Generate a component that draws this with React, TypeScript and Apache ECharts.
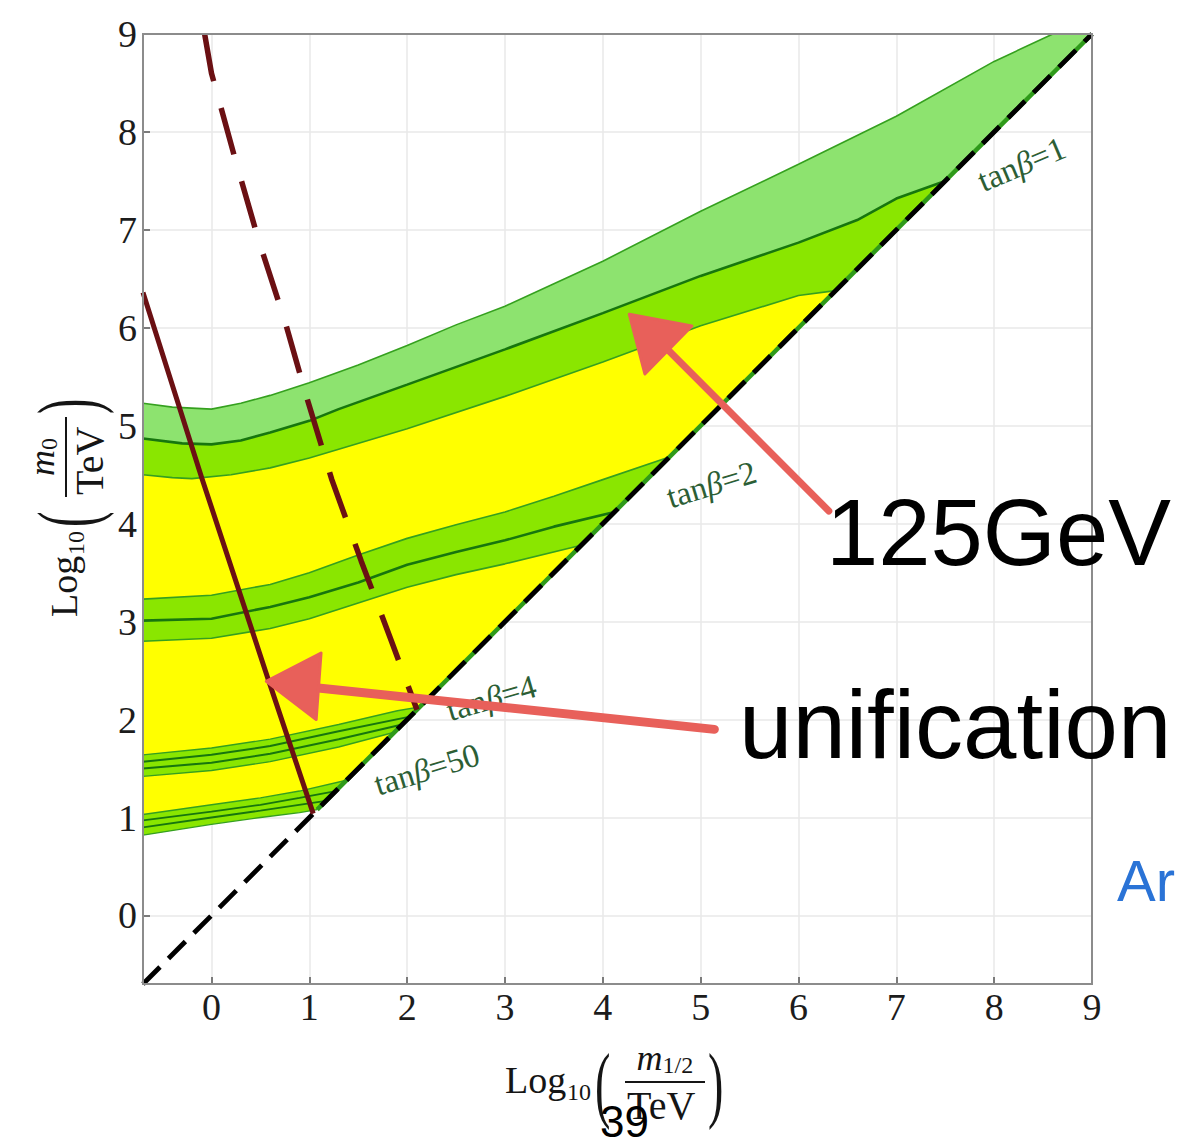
import { useEffect, useRef } from 'react';
import * as echarts from 'echarts';

type Pt = [number, number];

// Axis extent, log10 of the mass in TeV on both axes
const AXIS_MIN = -0.7;
const AXIS_MAX = 9;

// m_h = 125 GeV contour bands, points are [log10 m1/2, log10 m0]
const tb1Upper: Pt[] = [[-0.7, 5.23], [-0.4, 5.19], [0, 5.17], [0.3, 5.23], [0.6, 5.31], [1, 5.44], [1.5, 5.62], [2, 5.82], [2.5, 6.03], [3, 6.22], [3.5, 6.45], [4, 6.68], [5, 7.19], [6, 7.67], [7, 8.16], [8, 8.72], [8.6, 9]];
const tb1Centre: Pt[] = [[-0.7, 4.87], [-0.3, 4.82], [0, 4.81], [0.3, 4.85], [0.6, 4.93], [1, 5.05], [1.3, 5.17], [2, 5.42], [3, 5.78], [4, 6.15], [5, 6.53], [6, 6.87], [6.6, 7.1], [7, 7.32], [7.5, 7.5]];
const tb1Lower: Pt[] = [[-0.7, 4.5], [-0.4, 4.47], [-0.2, 4.46], [0.2, 4.5], [0.6, 4.57], [1, 4.67], [1.3, 4.76], [2, 4.97], [3, 5.3], [4, 5.65], [5, 6.02], [6, 6.33], [6.38, 6.38]];

const tb2Upper: Pt[] = [[-0.7, 3.23], [0, 3.27], [0.6, 3.38], [1, 3.5], [1.5, 3.68], [2, 3.85], [2.5, 3.99], [3, 4.12], [3.5, 4.28], [4, 4.45], [4.68, 4.68]];
const tb2Centre: Pt[] = [[-0.7, 3.01], [0, 3.03], [0.6, 3.15], [1, 3.25], [1.5, 3.4], [2, 3.58], [2.5, 3.71], [3, 3.83], [3.5, 3.97], [4.12, 4.12]];
const tb2Lower: Pt[] = [[-0.7, 2.8], [0, 2.83], [0.6, 2.93], [1, 3.03], [1.5, 3.19], [2, 3.35], [2.5, 3.48], [3, 3.59], [3.78, 3.78]];

const tb4Upper: Pt[] = [[-0.7, 1.64], [0, 1.71], [0.6, 1.8], [1.3, 1.95], [1.9, 2.09], [2.13, 2.13]];
const tb4CentreA: Pt[] = [[-0.7, 1.57], [0, 1.64], [0.6, 1.73], [1.3, 1.88], [2.03, 2.03]];
const tb4CentreB: Pt[] = [[-0.7, 1.5], [0, 1.56], [0.6, 1.65], [1.3, 1.8], [1.95, 1.95]];
const tb4Lower: Pt[] = [[-0.7, 1.42], [0, 1.48], [0.6, 1.57], [1.3, 1.72], [1.87, 1.87]];

const tb50Upper: Pt[] = [[-0.7, 1.03], [0, 1.13], [0.5, 1.2], [0.9, 1.27], [1.38, 1.38]];
const tb50CentreA: Pt[] = [[-0.7, 0.97], [0, 1.06], [0.5, 1.13], [0.9, 1.2], [1.27, 1.27]];
const tb50CentreB: Pt[] = [[-0.7, 0.9], [0, 1.0], [0.5, 1.07], [1.17, 1.17]];
const tb50Lower: Pt[] = [[-0.7, 0.82], [0, 0.93], [0.5, 1.0], [0.9, 1.05], [1.08, 1.08]];

// gauge-coupling unification curves
const unifSolid: Pt[] = [[-0.7, 6.36], [-0.1, 4.47], [0.58, 2.41], [1.04, 1.04]];
const unifDashed: Pt[] = [[-0.07, 9.0], [0, 8.6], [0.24, 7.73], [0.48, 6.9], [0.75, 6.07], [0.97, 5.3], [1.23, 4.45], [1.53, 3.62], [1.84, 2.8], [2.1, 2.1]];

// m0 = m1/2 boundary
const diagonal: Pt[] = [[AXIS_MIN, AXIS_MIN], [AXIS_MAX, AXIS_MAX]];
const diagonalShaded: Pt[] = [[1.08, 1.08], [AXIS_MAX, AXIS_MAX]];

const contourLabels = [
  { value: '1', at: [8.28, 7.67] as Pt, angle: 23 },
  { value: '2', at: [5.11, 4.4] as Pt, angle: 17 },
  { value: '4', at: [2.86, 2.22] as Pt, angle: 16 },
  { value: '50', at: [2.2, 1.49] as Pt, angle: 17 },
];

// hand-drawn pointers
const pointers = [
  { tail: [6.31, 4.13] as Pt, neck: [4.55, 5.89] as Pt, tip: [4.27, 6.14] as Pt, wingA: [4.91, 6.02] as Pt, wingB: [4.43, 5.53] as Pt, width: 7 },
  { tail: [5.14, 1.9] as Pt, neck: [0.92, 2.34] as Pt, tip: [0.56, 2.39] as Pt, wingA: [1.12, 2.68] as Pt, wingB: [1.07, 2.0] as Pt, width: 9 },
];

const LIGHT_GREEN = '#8de36f';
const BRIGHT_GREEN = '#8ae600';
const YELLOW = '#ffff00';
const EDGE_GREEN = '#35a01f';
const DARK_GREEN = '#17760e';
const MAROON = '#6b1013';
const POINTER = '#e8605a';
const LABEL_GREEN = '#2c5e35';
const INK = '#151515';
const SERIF = '"Liberation Serif", "Times New Roman", serif';
const SANS = '"Liberation Sans", Arial, sans-serif';

const rev = (c: Pt[]): Pt[] => [...c].reverse();

const regions: { name: string; pts: Pt[]; color: string }[] = [
  { name: 'light', pts: [...tb1Upper, [AXIS_MAX, AXIS_MAX], ...rev(tb1Centre)], color: LIGHT_GREEN },
  { name: 'tb1', pts: [...tb1Centre, ...rev(tb1Lower)], color: BRIGHT_GREEN },
  { name: 'yellow', pts: [...tb1Lower, ...rev(tb50Upper)], color: YELLOW },
  { name: 'tb2', pts: [...tb2Upper, ...rev(tb2Lower)], color: BRIGHT_GREEN },
  { name: 'tb4', pts: [...tb4Upper, ...rev(tb4Lower)], color: BRIGHT_GREEN },
  { name: 'tb50', pts: [...tb50Upper, ...rev(tb50Lower)], color: BRIGHT_GREEN },
];

const fillSeries = regions.map((r) => ({
  type: 'custom',
  name: r.name,
  silent: true,
  clip: true,
  z: 1,
  data: [[0, 0]],
  renderItem: (_p: any, api: any) => ({
    type: 'polygon',
    shape: { points: r.pts.map((p) => api.coord(p)) },
    style: { fill: r.color },
  }),
}));

const curve = (pts: Pt[], color: string, width: number, z = 2, type: any = 'solid') => ({
  type: 'line',
  data: pts,
  silent: true,
  showSymbol: false,
  symbol: 'none',
  z,
  lineStyle: { color, width, type, cap: 'butt' },
});

const edgeSeries = [
  curve(tb1Upper, EDGE_GREEN, 1.6),
  curve(tb1Centre, DARK_GREEN, 2.6),
  curve(tb1Lower, EDGE_GREEN, 1.6),
  curve(tb2Upper, EDGE_GREEN, 1.6),
  curve(tb2Centre, DARK_GREEN, 2.6),
  curve(tb2Lower, EDGE_GREEN, 1.6),
  curve(tb4Upper, EDGE_GREEN, 1.4),
  curve(tb4CentreA, DARK_GREEN, 2),
  curve(tb4CentreB, DARK_GREEN, 2),
  curve(tb4Lower, EDGE_GREEN, 1.4),
  curve(tb50Upper, EDGE_GREEN, 1.4),
  curve(tb50CentreA, DARK_GREEN, 1.8),
  curve(tb50CentreB, DARK_GREEN, 1.8),
  curve(tb50Lower, EDGE_GREEN, 1.4),
  curve(diagonalShaded, '#2f9a1a', 4.5, 3),
  curve(diagonal, '#000000', 4.8, 3, [24, 12]),
  curve(unifSolid, MAROON, 5, 4),
  curve(unifDashed, MAROON, 5.5, 4, [48, 28]),
];

const labelSeries = {
  type: 'custom',
  silent: true,
  z: 5,
  data: contourLabels.map((l) => l.at),
  renderItem: (params: any, api: any) => {
    const l = contourLabels[params.dataIndex];
    const [x, y] = api.coord(l.at);
    const base = { fontSize: 33, fontFamily: SERIF, fill: LABEL_GREEN };
    return {
      type: 'text',
      x,
      y,
      rotation: (l.angle * Math.PI) / 180,
      style: {
        text: `{n|tan}{b|β}{n|=${l.value}}`,
        align: 'center',
        verticalAlign: 'middle',
        ...base,
        rich: { n: { ...base }, b: { ...base, fontStyle: 'italic' } },
      },
    };
  },
};

const pointerSeries = {
  type: 'custom',
  silent: true,
  z: 6,
  data: pointers.map((p) => p.tip),
  renderItem: (params: any, api: any) => {
    const a = pointers[params.dataIndex];
    const t = api.coord(a.tail);
    const n = api.coord(a.neck);
    return {
      type: 'group',
      children: [
        {
          type: 'line',
          shape: { x1: t[0], y1: t[1], x2: n[0], y2: n[1] },
          style: { stroke: POINTER, lineWidth: a.width, lineCap: 'round' },
        },
        {
          type: 'polygon',
          shape: { points: [a.tip, a.wingA, a.wingB].map((p) => api.coord(p)) },
          style: { fill: POINTER, stroke: POINTER, lineWidth: 3, lineJoin: 'round' },
        },
      ],
    };
  },
};

const txt = (text: string, x: number, y: number, size: number, extra: any = {}) => ({
  type: 'text',
  x,
  y,
  style: { text, fontSize: size, fontFamily: SERIF, fill: INK, verticalAlign: 'middle', ...extra },
});

// Log10( m / TeV ) built from pieces, origin at the baseline start of "Log"
const axisTitle = (sub: string) => {
  const subW = sub.length === 1 ? 12 : 31;
  const numStart = 160 - (26 + subW) / 2;
  return [
    txt('Log', 0, -13, 38),
    txt('10', 62, -1, 24),
    txt('(', 90, -9, 84, {}),
    txt('m', numStart, -35, 36, { fontStyle: 'italic' }),
    txt(sub, numStart + 26, -28, 24),
    { type: 'line', shape: { x1: 120, y1: -11, x2: 200, y2: -11 }, style: { stroke: INK, lineWidth: 2 } },
    txt('TeV', 122, 12, 40),
    txt(')', 203, -9, 84),
  ].map((el: any) => (el.style && (el.style.text === '(' || el.style.text === ')') ? { ...el, scaleX: 0.55 } : el));
};

const intLabel = (v: number) => (Math.abs(v - Math.round(v)) < 1e-9 ? String(Math.round(v)) : '');

const axisCommon = {
  type: 'value',
  min: AXIS_MIN,
  max: AXIS_MAX,
  splitNumber: 10,
  minInterval: 1,
  maxInterval: 1,
  axisLine: { show: true, onZero: false, lineStyle: { color: '#8c8c8c', width: 2 } },
  axisTick: { show: true, inside: true, length: 7, lineStyle: { color: '#555', width: 1.5 } },
  splitLine: { show: true, lineStyle: { color: '#e8e8e8', width: 1.5 } },
  axisLabel: { showMinLabel: false, formatter: intLabel, fontSize: 38, fontFamily: SERIF, color: '#1c1c1c' },
};

export default function App() {
  const ref = useRef<HTMLDivElement>(null);

  useEffect(() => {
    if (!ref.current) return;
    const chart = echarts.init(ref.current, undefined, { renderer: 'svg' });
    chart.setOption({
      animation: false,
      backgroundColor: '#ffffff',
      grid: { left: 143, top: 34, right: 87, bottom: 162, show: false },
      xAxis: { ...axisCommon, axisLabel: { ...axisCommon.axisLabel, margin: 4 } },
      yAxis: { ...axisCommon, axisLabel: { ...axisCommon.axisLabel, margin: 6 } },
      series: [...fillSeries, ...edgeSeries, labelSeries, pointerSeries],
      graphic: [
        { type: 'rect', z: 100, silent: true, shape: { x: 143, y: 34, width: 949, height: 950 }, style: { fill: 'none', stroke: '#8c8c8c', lineWidth: 2 } },
        { type: 'group', x: 505, y: 1093, children: axisTitle('1/2') },
        { type: 'group', x: 77, y: 617, rotation: Math.PI / 2, children: axisTitle('0') },
        { type: 'text', z: 101, x: 826, y: 532, style: { text: '125GeV', fontSize: 94, fontFamily: SANS, fill: '#000', verticalAlign: 'middle' } },
        { type: 'text', z: 101, x: 739, y: 724, style: { text: 'unification', fontSize: 96, fontFamily: SANS, fill: '#000', verticalAlign: 'middle' } },
        { type: 'text', z: 101, x: 1117, y: 880, style: { text: 'Ar', fontSize: 58, fontFamily: SANS, fill: '#2a73d6', verticalAlign: 'middle' } },
        { type: 'text', z: 101, x: 600, y: 1121, style: { text: '39', fontSize: 44, fontFamily: SANS, fill: '#000', verticalAlign: 'middle' } },
      ],
    });
    return () => chart.dispose();
  }, []);

  return (
    <div
      ref={ref}
      style={{ position: 'fixed', left: 0, top: 0, width: 1179, height: 1146, background: '#fff' }}
    />
  );
}
